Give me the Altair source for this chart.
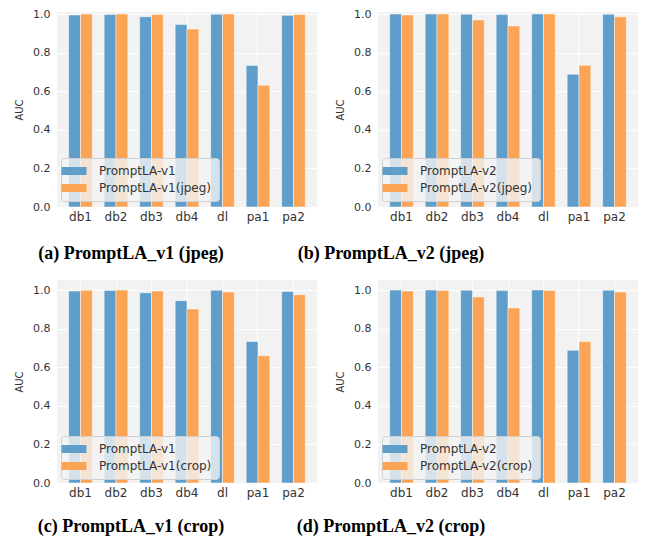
import altair as alt
import pandas as pd

categories = ["db1", "db2", "db3", "db4", "dl", "pa1", "pa2"]

v1 = [0.995, 0.998, 0.986, 0.945, 0.999, 0.733, 0.993]
v1_jpeg = [1.000, 1.000, 0.997, 0.922, 1.000, 0.631, 0.998]
v2 = [1.000, 1.000, 0.999, 0.997, 1.000, 0.688, 0.999]
v2_jpeg = [0.995, 1.000, 0.969, 0.938, 1.000, 0.734, 0.986]
v1_crop = [0.999, 1.000, 0.995, 0.902, 0.990, 0.659, 0.976]
v2_crop = [0.995, 0.998, 0.964, 0.907, 0.998, 0.733, 0.990]

y_ticks = [0.0, 0.2, 0.4, 0.6, 0.8, 1.0]

BLUE = "#5f9ecb"
ORANGE = "#fca455"
TXT = "#333333"
RECT = "M-2.5,-0.8L2.5,-0.8L2.5,0.8L-2.5,0.8Z"


def panel(base_name, base_vals, var_name, var_vals, caption, ymax, h,
          cap_dx, cap_offset, legend_y):
    n = len(categories)
    df = pd.DataFrame({
        "cat": categories * 2,
        "auc": base_vals + var_vals,
        "series": [base_name] * n + [var_name] * n,
        "slot": ["a"] * n + ["b"] * n,
    })
    return alt.Chart(df).mark_bar(
        stroke="white", strokeWidth=0.8, strokeOpacity=0.6
    ).encode(
        x=alt.X("cat:N", sort=categories,
                scale=alt.Scale(paddingInner=0, paddingOuter=0.162),
                axis=alt.Axis(title=None, labelAngle=0, domain=False, ticks=False,
                              labelPadding=4, labelFont="DejaVu Sans", labelFontSize=12,
                              labelColor=TXT, grid=True, gridColor="white", gridWidth=1)),
        xOffset=alt.XOffset("slot:N", sort=["a", "b"],
                            scale=alt.Scale(paddingInner=0, paddingOuter=0.5)),
        y=alt.Y("auc:Q",
                scale=alt.Scale(domain=[0, ymax], nice=False, zero=True),
                axis=alt.Axis(title="AUC", values=y_ticks, format=".1f", domain=False,
                              ticks=False, labelPadding=7, labelFont="DejaVu Sans",
                              labelFontSize=11, labelColor=TXT, titleFont="DejaVu Sans",
                              titleFontSize=10, titleFontWeight="normal", titleColor=TXT,
                              titlePadding=8, grid=True, gridColor="white", gridWidth=1)),
        color=alt.Color("series:N", sort=[base_name, var_name],
                        scale=alt.Scale(domain=[base_name, var_name], range=[BLUE, ORANGE]),
                        legend=alt.Legend(title=None, orient="none", legendX=4, legendY=legend_y,
                                          symbolType=RECT, symbolSize=100, symbolStrokeWidth=0,
                                          labelFont="DejaVu Sans", labelFontSize=12,
                                          labelColor=TXT, labelOffset=19, rowPadding=5,
                                          padding=7, fillColor="rgba(242,242,242,0.8)",
                                          strokeColor="#cfcfcf", cornerRadius=3)),
    ).properties(
        width=260, height=h,
        title=alt.TitleParams(caption, orient="bottom", anchor="middle", frame="group",
                              dx=cap_dx, offset=cap_offset, font="Liberation Serif",
                              fontSize=18, fontWeight="bold", color="black"),
    )


a = panel("PromptLA-v1", v1, "PromptLA-v1(jpeg)", v1_jpeg, "(a) PromptLA_v1 (jpeg)",
          1.0104, 195, -56, 23, 146)
b = panel("PromptLA-v2", v2, "PromptLA-v2(jpeg)", v2_jpeg, "(b) PromptLA_v2 (jpeg)",
          1.0104, 195, -117, 23, 146)
c = panel("PromptLA-v1", v1, "PromptLA-v1(crop)", v1_crop, "(c) PromptLA_v1 (crop)",
          1.052, 203, -56, 20, 156)
d = panel("PromptLA-v2", v2, "PromptLA-v2(crop)", v2_crop, "(d) PromptLA_v2 (crop)",
          1.052, 203, -117, 20, 156)

row1 = alt.hconcat(a, b, spacing=61, bounds="flush").resolve_scale(
    color="independent").resolve_legend(color="independent")
row2 = alt.hconcat(c, d, spacing=61, bounds="flush").resolve_scale(
    color="independent").resolve_legend(color="independent")

chart = alt.vconcat(row1, row2, spacing=17).resolve_scale(
    color="independent").resolve_legend(color="independent").properties(
    padding={"left": 6, "top": 0, "right": 0, "bottom": 0},
    background="white",
).configure_view(fill="#f2f2f2", strokeWidth=0)

chart.save("out.html", embed_options={"renderer": "svg", "actions": False})
